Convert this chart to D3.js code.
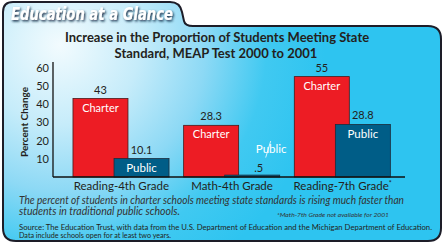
<!DOCTYPE html>
<html>
<head>
<meta charset="utf-8">
<script src="https://cdn.jsdelivr.net/npm/d3@7"></script>
<style>
  html, body { margin: 0; padding: 0; background: #fff; }
  svg { display: block; }
</style>
</head>
<body>
<div id="chart"></div>
<script>
// values
const categories = ['Reading-4th Grade', 'Math-4th Grade', 'Reading-7th Grade'];
const charterValues = [43, 28.3, 55];
const publicValues = [10.1, 0.5, 28.8];
const charterLabels = ['43', '28.3', '55'];
const publicLabels = ['10.1', '.5', '28.8'];
const yTicks = [10, 20, 30, 40, 50, 60];

const width = 444;
const height = 244;

const svg = d3.select('#chart').append('svg')
  .attr('width', width)
  .attr('height', height);

const defs = svg.append('defs');
const grad = defs.append('radialGradient')
  .attr('id', 'bg')
  .attr('gradientUnits', 'userSpaceOnUse')
  .attr('cx', 60).attr('cy', 45).attr('r', 265);
[[0, '#f2fbfe'], [0.3, '#c6ecfa'], [0.55, '#8dd9f5'], [0.78, '#40c9f1'], [1, '#2ec4f0']]
  .forEach(([o, c]) => grad.append('stop').attr('offset', o).attr('stop-color', c));

const shadow = defs.append('filter').attr('id', 'shadow')
  .attr('x', '-10%').attr('y', '-30%').attr('width', '130%').attr('height', '170%');
shadow.append('feDropShadow')
  .attr('dx', 1.2).attr('dy', 1.5).attr('stdDeviation', 0.9)
  .attr('flood-color', '#0c2440').attr('flood-opacity', 0.95);

// tab + panel outline
svg.append('path')
  .attr('d', 'M3,12 Q3,2 13,2 H170 Q180,2 182,12 L184,21 Q185,26 193,26 H428 Q441,26 441,39 V228 Q441,241 428,241 H16 Q3,241 3,228 Z')
  .attr('fill', 'url(#bg)')
  .attr('stroke', '#1d1d28')
  .attr('stroke-width', 2);

svg.append('text')
  .attr('x', 11).attr('y', 20)
  .attr('textLength', 162)
  .attr('lengthAdjust', 'spacingAndGlyphs')
  .attr('font-family', 'DejaVu Sans Condensed, DejaVu Sans')
  .attr('font-weight', 'bold')
  .attr('font-style', 'italic')
  .attr('font-size', 17)
  .attr('fill', '#fff')
  .attr('filter', 'url(#shadow)')
  .text('Education at a Glance');

// title
const title = svg.append('text')
  .attr('font-family', 'Lato')
  .attr('font-weight', 'bold')
  .attr('font-size', 13)
  .attr('fill', '#231f20')
  .attr('text-anchor', 'middle');
title.append('tspan').attr('x', 217).attr('y', 41.5).text('Increase in the Proportion of Students Meeting State');
title.append('tspan').attr('x', 216).attr('y', 57.5).text('Standard, MEAP Test 2000 to 2001');

// scales
const y = d3.scaleLinear().domain([0, 63]).range([177, 62]);
const x = d3.scaleBand().domain(categories).range([66, 398]);
const step = x.step();
const barW = step * 0.497;

// y tick labels
const yAxis = svg.append('g')
  .attr('transform', 'translate(53,0)')
  .call(d3.axisLeft(y).tickValues(yTicks).tickSize(0).tickPadding(4));
yAxis.select('.domain').remove();
yAxis.selectAll('text')
  .attr('font-family', 'Lato')
  .attr('font-size', 11)
  .attr('fill', '#231f20');

svg.append('text')
  .attr('transform', 'translate(28,122) rotate(-90)')
  .attr('text-anchor', 'middle')
  .attr('font-family', 'Lato')
  .attr('font-weight', 'bold')
  .attr('font-size', 10)
  .attr('fill', '#231f20')
  .text('Percent Change');

// bars
const groups = svg.selectAll('.grp')
  .data(categories)
  .enter()
  .append('g')
  .attr('class', 'grp');

groups.append('rect')
  .attr('x', d => x(d) + step * 0.063)
  .attr('y', (d, i) => y(charterValues[i]))
  .attr('width', barW)
  .attr('height', (d, i) => y(0) - y(charterValues[i]))
  .attr('fill', '#ed1c24')
  .attr('stroke', '#4a1a1a')
  .attr('stroke-width', 0.8);

groups.append('rect')
  .attr('x', d => x(d) + step * 0.434)
  .attr('y', (d, i) => y(publicValues[i]) - (publicValues[i] < 2 ? 1 : 0))
  .attr('width', barW)
  .attr('height', (d, i) => y(0) - y(publicValues[i]) + (publicValues[i] < 2 ? 1 : 0))
  .attr('fill', '#005d87')
  .attr('stroke', '#1c2c3c')
  .attr('stroke-width', 0.8);

// value labels
groups.append('text')
  .attr('x', d => x(d) + step * 0.063 + barW / 2)
  .attr('y', (d, i) => y(charterValues[i]) - 5)
  .attr('text-anchor', 'middle')
  .attr('font-family', 'Lato')
  .attr('font-size', 11)
  .attr('fill', '#231f20')
  .text((d, i) => charterLabels[i]);

groups.append('text')
  .attr('x', (d, i) => x(d) + step * 0.434 + barW / 2 + (publicValues[i] < 5 ? 6.5 : 0))
  .attr('y', (d, i) => y(publicValues[i]) - (publicValues[i] < 5 ? 4 : 5))
  .attr('text-anchor', 'middle')
  .attr('font-family', 'Lato')
  .attr('font-size', 11)
  .attr('fill', '#231f20')
  .text((d, i) => publicLabels[i]);

// series names
groups.append('text')
  .attr('x', d => x(d) + step * 0.063 + barW / 2)
  .attr('y', (d, i) => y(charterValues[i]) + 13)
  .attr('text-anchor', 'middle')
  .attr('font-family', 'Lato')
  .attr('font-size', 11)
  .attr('fill', '#fff')
  .text('Charter');

groups.append('text')
  .attr('x', (d, i) => x(d) + step * 0.434 + barW / 2 + (publicValues[i] < 5 ? 19 : 0))
  .attr('y', (d, i) => publicValues[i] < 5 ? y(publicValues[i]) - 23 : y(publicValues[i]) + 13.5)
  .attr('text-anchor', 'middle')
  .attr('font-family', 'Lato')
  .attr('font-size', 11.5)
  .attr('fill', '#fff')
  .text('Public');

// leader line for the tiny bar
groups.filter((d, i) => publicValues[i] < 5)
  .append('line')
  .attr('x1', d => x(d) + step * 0.434 + barW / 2 + 18.5)
  .attr('y1', (d, i) => y(publicValues[i]) - 17.5)
  .attr('x2', d => x(d) + step * 0.434 + barW / 2 + 13.5)
  .attr('y2', (d, i) => y(publicValues[i]) - 1)
  .attr('stroke', '#fff')
  .attr('stroke-width', 0.8);

// axes lines
svg.append('line')
  .attr('x1', 53).attr('x2', 53)
  .attr('y1', y(63)).attr('y2', y(0))
  .attr('stroke', '#111').attr('stroke-width', 1.3);
svg.append('line')
  .attr('x1', 53).attr('x2', 405)
  .attr('y1', y(0)).attr('y2', y(0))
  .attr('stroke', '#111').attr('stroke-width', 1.3);

// category labels
const xAxis = svg.append('g')
  .attr('transform', `translate(0,${y(0)})`)
  .call(d3.axisBottom(x).tickSize(0).tickPadding(5));
xAxis.select('.domain').remove();
xAxis.selectAll('text')
  .attr('font-family', 'Lato')
  .attr('font-size', 11.5)
  .attr('fill', '#231f20');
xAxis.selectAll('.tick').filter((d, i) => i === 2)
  .select('text')
  .append('tspan')
  .attr('font-size', 7)
  .attr('dy', -4)
  .text('*');

// caption
const caption = svg.append('g')
  .attr('font-family', 'Lato')
  .attr('font-style', 'italic')
  .attr('fill', '#333');
caption.append('text')
  .attr('x', 19).attr('y', 203.5)
  .attr('font-size', 10.5)
  .attr('textLength', 385)
  .attr('lengthAdjust', 'spacingAndGlyphs')
  .text('The percent of students in charter schools meeting state standards is rising much faster than');
caption.append('text')
  .attr('x', 19).attr('y', 215)
  .attr('font-size', 10.5)
  .text('students in traditional public schools.');
caption.append('text')
  .attr('x', 389).attr('y', 216.5)
  .attr('font-size', 6.5)
  .attr('text-anchor', 'end')
  .attr('textLength', 112)
  .attr('lengthAdjust', 'spacingAndGlyphs')
  .text('*Math-7th Grade not available for 2001');

const source = svg.append('g')
  .attr('font-family', 'Lato')
  .attr('font-size', 6.8)
  .attr('fill', '#231f20');
source.append('text')
  .attr('x', 19).attr('y', 230.2)
  .attr('textLength', 413)
  .attr('lengthAdjust', 'spacingAndGlyphs')
  .text('Source: The Education Trust, with data from the U.S. Department of Education and the Michigan Department of Education.');
source.append('text')
  .attr('x', 19).attr('y', 238)
  .attr('textLength', 152)
  .attr('lengthAdjust', 'spacingAndGlyphs')
  .text('Data include schools open for at least two years.');
</script>
</body>
</html>
